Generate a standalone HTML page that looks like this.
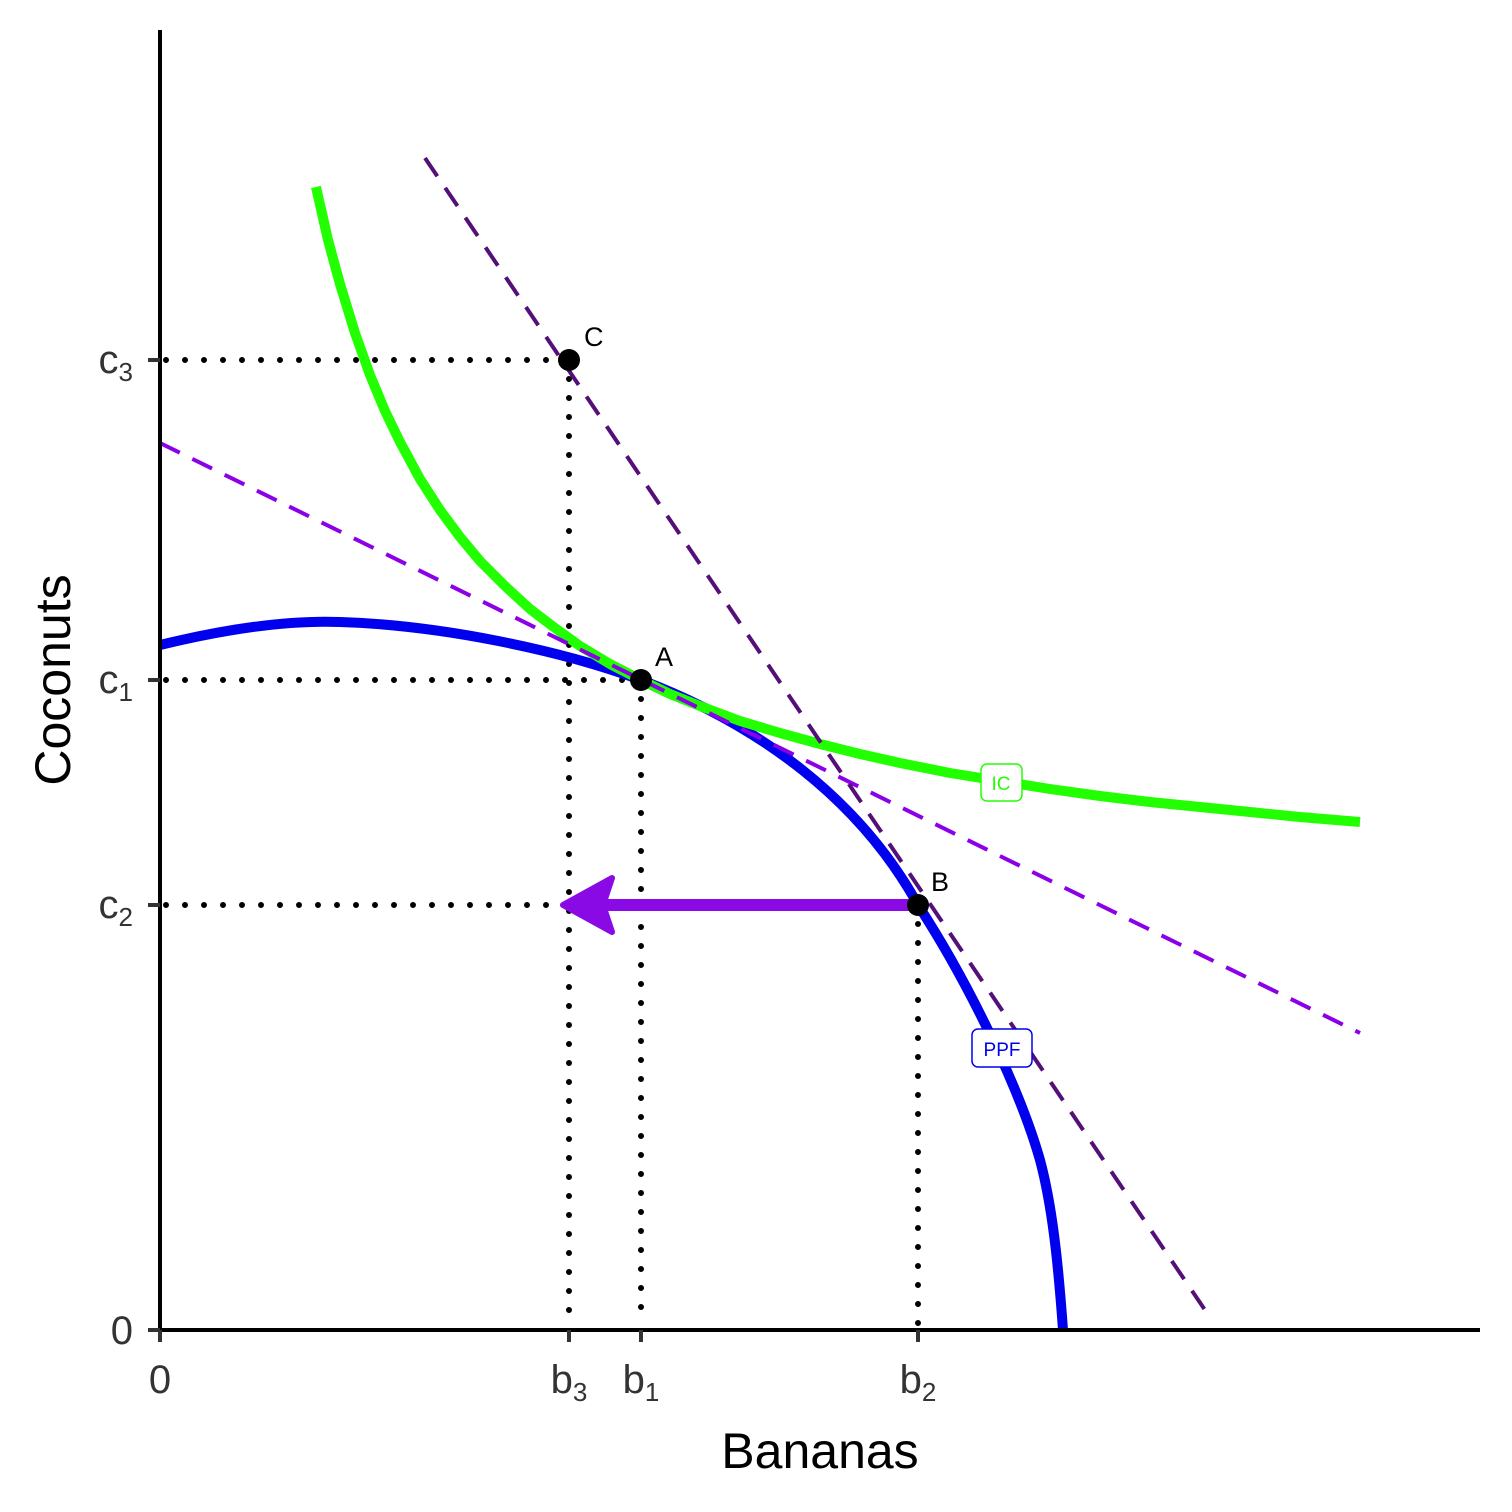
<!DOCTYPE html>
<html><head><meta charset="utf-8"><style>body{margin:0;background:#fff}svg{display:block}</style></head><body>
<svg width="1512" height="1512" viewBox="0 0 1512 1512" xmlns="http://www.w3.org/2000/svg" font-family="Liberation Sans, sans-serif">
<rect width="1512" height="1512" fill="#fff"/>
<g stroke="#000" stroke-width="6" stroke-dasharray="0 19" stroke-linecap="round" fill="none">
<line x1="166" y1="360" x2="569" y2="360"/>
<line x1="166" y1="680" x2="641" y2="680"/>
<line x1="166" y1="905" x2="918" y2="905"/>
<line x1="569" y1="360" x2="569" y2="1326"/>
<line x1="641" y1="680" x2="641" y2="1326"/>
<line x1="918" y1="905" x2="918" y2="1326"/>
</g>
<path fill="none" stroke="#0000EE" stroke-width="10" stroke-linejoin="round" d="M160,645 C230,628 290,620 340,622 C440,625 560,650 641,680 C760,725 860,800 918,905 C970,985 1020,1090 1040,1160 C1052,1205 1058,1260 1063,1330"/>
<polyline fill="none" stroke="#22FF00" stroke-width="10" stroke-linejoin="round" points="316,187 328,240 340,284 355,333 370,375 385,411 400,442 420,479 440,510 460,537 480,561 505,586 530,609 555,628 580,646 610,664 641,680 670,694 700,706 740,721 780,733 820,744 860,754 900,763 950,773 1000,781 1050,789 1100,796 1150,802 1200,807 1250,812 1300,817 1360,822"/>
<line x1="160" y1="443" x2="1360" y2="1033" stroke="#8B00E8" stroke-width="4" stroke-dasharray="22 14"/>
<line x1="425" y1="158" x2="1205" y2="1310" stroke="#541078" stroke-width="4" stroke-dasharray="22 14"/>
<line x1="918" y1="905" x2="600" y2="905" stroke="#8A0AE6" stroke-width="12"/>
<polygon points="563,905 612,878 603,905 612,932" fill="#8A0AE6" stroke="#8A0AE6" stroke-width="6" stroke-linejoin="round"/>
<g fill="#000"><circle cx="569" cy="360" r="11"/><circle cx="641" cy="680" r="11"/><circle cx="918" cy="905" r="11"/></g>
<g font-size="27" fill="#000"><text x="584" y="346">C</text><text x="655" y="666">A</text><text x="931" y="891">B</text></g>
<rect x="981" y="764" width="41" height="37" rx="6" fill="#fff" stroke="#22FF00" stroke-width="1.5"/>
<text x="1001" y="790" font-size="19" fill="#22FF00" text-anchor="middle">IC</text>
<rect x="972" y="1029" width="60" height="38" rx="6" fill="#fff" stroke="#0000EE" stroke-width="1.5"/>
<text x="1002" y="1056" font-size="19" fill="#0000EE" text-anchor="middle">PPF</text>
<line x1="160" y1="30" x2="160" y2="1332" stroke="#000" stroke-width="4"/>
<line x1="158" y1="1330" x2="1480" y2="1330" stroke="#000" stroke-width="4"/>
<g stroke="#333" stroke-width="4">
<line x1="148" y1="360" x2="160" y2="360"/><line x1="148" y1="680" x2="160" y2="680"/><line x1="148" y1="905" x2="160" y2="905"/><line x1="148" y1="1330" x2="160" y2="1330"/>
<line x1="160" y1="1330" x2="160" y2="1342"/><line x1="569" y1="1330" x2="569" y2="1342"/><line x1="641" y1="1330" x2="641" y2="1342"/><line x1="918" y1="1330" x2="918" y2="1342"/>
</g>
<g font-size="40" fill="#333">
<text x="133" y="373" text-anchor="end">c<tspan font-size="26" dy="8">3</tspan></text>
<text x="133" y="693" text-anchor="end">c<tspan font-size="26" dy="8">1</tspan></text>
<text x="133" y="918" text-anchor="end">c<tspan font-size="26" dy="8">2</tspan></text>
<text x="133" y="1344" text-anchor="end">0</text>
<text x="160" y="1393" text-anchor="middle">0</text>
<text x="569" y="1393" text-anchor="middle">b<tspan font-size="26" dy="8">3</tspan></text>
<text x="641" y="1393" text-anchor="middle">b<tspan font-size="26" dy="8">1</tspan></text>
<text x="918" y="1393" text-anchor="middle">b<tspan font-size="26" dy="8">2</tspan></text>
</g>
<text x="820" y="1468" font-size="50" fill="#000" text-anchor="middle">Bananas</text>
<text transform="translate(70,680) rotate(-90)" font-size="50" fill="#000" text-anchor="middle">Coconuts</text>
</svg>
</body></html>
